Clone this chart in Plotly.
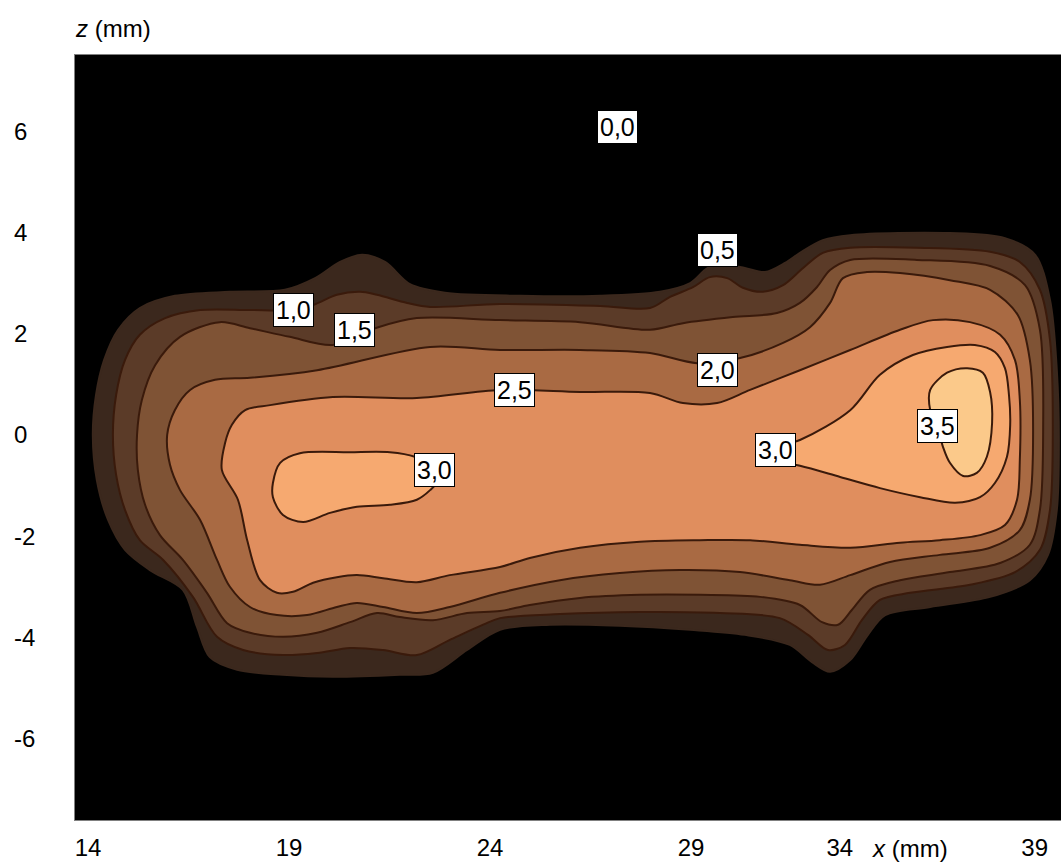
import plotly.graph_objects as go

# Isolines of the measured field, x (mm) along the bead, z (mm) across it.
iso05_x = [14.12, 14.20, 14.40, 14.75, 15.29, 16.16, 17.53, 18.90, 19.65, 20.27, 20.82, 21.39, 22.01, 22.88,
           24.75, 26.74, 28.23, 28.98, 29.42, 29.85, 30.34, 30.84, 31.34, 31.71, 32.28, 32.96, 35.44, 36.81,
           37.56, 37.93, 38.10, 38.15, 38.10, 37.88, 37.43, 36.44, 34.95, 33.83, 33.40, 32.96, 32.46, 32.01,
           31.46, 30.34, 28.98, 27.23, 25.49, 24.25, 23.43, 22.58, 21.76, 20.09, 18.85, 17.71, 17.03, 16.71,
           16.36, 15.54, 14.92, 14.50, 14.22]
iso05_z = [0.00, 0.79, 1.48, 2.08, 2.51, 2.75, 2.83, 2.87, 3.10, 3.42, 3.56, 3.42, 2.98, 2.81,
           2.75, 2.75, 2.83, 3.00, 3.30, 3.36, 3.30, 3.22, 3.40, 3.60, 3.85, 3.95, 3.99, 3.89,
           3.56, 2.67, 1.28, -0.10, -1.48, -2.37, -2.87, -3.20, -3.40, -3.56, -3.95, -4.45, -4.68, -4.49,
           -4.15, -3.95, -3.85, -3.77, -3.75, -3.85, -4.25, -4.70, -4.74, -4.78, -4.74, -4.64, -4.39, -3.79,
           -3.06, -2.67, -2.27, -1.68, -0.89]

iso10_x = [14.62, 14.70, 14.92, 15.29, 15.92, 16.79, 18.03, 19.02, 19.60, 20.19, 20.77, 21.19, 21.94, 22.51,
           24.25, 26.74, 27.98, 28.48, 29.05, 29.47, 29.90, 30.29, 30.79, 31.29, 31.79, 32.28, 32.96, 34.62,
           36.44, 37.18, 37.68, 37.93, 38.00, 37.93, 37.68, 37.06, 35.94, 34.45, 33.70, 33.25, 32.83, 32.41,
           31.91, 31.21, 29.72, 27.73, 25.74, 24.25, 23.83, 23.00, 22.18, 21.34, 20.52, 19.70, 18.85, 17.86,
           17.21, 16.61, 15.87, 15.29, 14.92, 14.70]
iso10_z = [0.00, 0.79, 1.48, 1.98, 2.31, 2.47, 2.47, 2.47, 2.57, 2.77, 2.83, 2.77, 2.61, 2.53,
           2.59, 2.55, 2.51, 2.73, 2.92, 3.12, 3.10, 2.91, 2.83, 2.96, 3.30, 3.60, 3.70, 3.70,
           3.62, 3.42, 2.87, 1.88, 0.10, -1.48, -2.27, -2.71, -2.96, -3.12, -3.26, -3.66, -4.15, -4.25,
           -3.95, -3.62, -3.52, -3.50, -3.54, -3.62, -3.75, -4.05, -4.35, -4.25, -4.21, -4.31, -4.35, -4.25,
           -3.99, -3.20, -2.47, -2.08, -1.48, -0.79]

iso15_x = [15.22, 15.34, 15.67, 16.29, 17.28, 18.03, 19.02, 20.09, 21.14, 22.18, 24.25, 26.24, 27.98, 28.80,
           30.04, 31.14, 31.71, 32.13, 32.46, 32.96, 34.62, 36.44, 37.31, 37.68, 37.76, 37.68, 37.43, 36.69,
           35.44, 34.20, 33.45, 33.00, 32.66, 32.26, 31.71, 30.72, 29.22, 27.73, 26.24, 24.99, 24.25, 23.43,
           22.58, 21.76, 21.19, 20.52, 19.70, 18.85, 18.03, 17.46, 16.96, 16.36, 15.79, 15.42, 15.24]
iso15_z = [0.00, 0.69, 1.38, 1.94, 2.23, 2.11, 1.94, 1.78, 2.11, 2.31, 2.27, 2.23, 2.08, 2.21,
           2.33, 2.41, 2.61, 2.92, 3.26, 3.46, 3.46, 3.34, 2.96, 2.08, 0.10, -1.48, -2.17, -2.53,
           -2.71, -2.87, -3.06, -3.46, -3.75, -3.70, -3.36, -3.20, -3.16, -3.16, -3.22, -3.36, -3.48, -3.52,
           -3.66, -3.60, -3.52, -3.70, -3.91, -3.99, -3.91, -3.72, -3.12, -2.47, -1.98, -1.38, -0.69]

iso20_x = [15.97, 16.16, 16.54, 17.16, 18.03, 19.70, 22.51, 24.25, 26.24, 27.98, 29.15, 30.22, 31.29, 31.96,
           32.46, 32.78, 33.38, 34.20, 35.44, 36.44, 37.13, 37.43, 37.51, 37.43, 37.18, 36.44, 35.19, 33.95,
           32.96, 32.21, 31.46, 30.22, 28.73, 27.23, 25.74, 24.25, 23.00, 22.18, 21.34, 20.69, 20.19, 19.45,
           18.70, 18.03, 17.53, 17.21, 16.79, 16.29, 16.04]
iso20_z = [0.00, 0.49, 0.89, 1.09, 1.13, 1.28, 1.74, 1.68, 1.68, 1.62, 1.42, 1.52, 1.82, 2.13,
           2.61, 3.10, 3.22, 3.20, 3.06, 2.87, 2.37, 1.48, 0.10, -1.28, -1.88, -2.23, -2.37, -2.51,
           -2.77, -2.96, -2.87, -2.71, -2.67, -2.73, -2.87, -3.12, -3.40, -3.52, -3.40, -3.32, -3.40, -3.56,
           -3.56, -3.40, -3.00, -2.47, -1.68, -1.09, -0.59]

iso25_x = [17.33, 17.41, 17.58, 17.91, 18.53, 20.09, 22.18, 24.25, 26.24, 27.98, 28.80, 29.65, 30.47, 31.71,
           32.96, 34.20, 35.02, 35.94, 36.69, 37.06, 37.18, 37.18, 37.11, 36.81, 36.19, 35.19, 34.20, 32.96,
           31.71, 30.47, 29.22, 27.73, 26.24, 24.99, 24.25, 23.00, 22.18, 21.34, 20.69, 20.19, 19.60, 19.10,
           18.70, 18.28, 17.96, 17.73]
iso25_z = [-0.69, -0.16, 0.20, 0.49, 0.59, 0.75, 0.73, 0.89, 0.85, 0.83, 0.63, 0.63, 0.89, 1.28,
           1.68, 2.08, 2.27, 2.23, 1.98, 1.48, 0.69, -0.49, -1.28, -1.78, -1.98, -2.08, -2.13, -2.23,
           -2.17, -2.08, -2.08, -2.11, -2.23, -2.43, -2.61, -2.77, -2.91, -2.83, -2.77, -2.81, -2.92, -3.10,
           -3.12, -2.87, -2.08, -1.28]

iso30a_x = [18.60, 18.78, 19.27, 20.52, 21.51, 22.13, 22.63, 22.76, 22.51, 22.18, 21.51, 20.69, 20.02,
            19.35, 18.85, 18.60]
iso30a_z = [-0.95, -0.55, -0.36, -0.34, -0.34, -0.43, -0.65, -0.85, -1.09, -1.28, -1.38, -1.42, -1.54,
            -1.72, -1.58, -1.23]

iso30b_x = [30.72, 31.71, 32.96, 33.70, 34.52, 35.37, 36.06, 36.56, 36.81, 36.91, 36.94, 36.86, 36.56,
            36.19, 35.57, 34.70, 33.70, 32.71, 31.71, 30.97]
iso30b_z = [-0.34, -0.10, 0.49, 1.19, 1.58, 1.74, 1.78, 1.64, 1.32, 0.79, 0.20, -0.43, -0.95,
            -1.23, -1.34, -1.23, -1.05, -0.83, -0.61, -0.49]

iso35_x = [34.95, 35.37, 35.87, 36.26, 36.44, 36.49, 36.36, 36.11, 35.77, 35.44, 35.27, 35.15, 34.95]
iso35_z = [0.89, 1.23, 1.32, 1.23, 0.85, 0.24, -0.43, -0.75, -0.81, -0.55, -0.24, 0.10, 0.49]

# Contour labels (text, x, z)
label_text = ["0,0", "0,5", "1,0", "1,5", "2,0", "2,5", "3,0", "3,0", "3,5"]
label_x = [27.16, 29.65, 19.10, 20.62, 29.65, 24.62, 22.63, 31.09, 35.14]
label_z = [6.09, 3.66, 2.47, 2.08, 1.28, 0.89, -0.69, -0.30, 0.18]

# Axis tick labels
x_tick_text = ["14", "19", "24", "29", "34", "39"]
x_tick_at = [14, 19, 24, 29, 32.7, 37.55]
z_ticks = [6, 4, 2, 0, -2, -4, -6]

FONT = "Arial, Liberation Sans, sans-serif"
LINE = "#3a1a0b"

bands = [
    (iso05_x, iso05_z, "#3b281d", False),
    (iso10_x, iso10_z, "#5b3b28", True),
    (iso15_x, iso15_z, "#7f5335", True),
    (iso20_x, iso20_z, "#a96a43", True),
    (iso25_x, iso25_z, "#e08e5e", True),
    (iso30a_x, iso30a_z, "#f6a970", True),
    (iso30b_x, iso30b_z, "#f6a970", True),
    (iso35_x, iso35_z, "#fbc98a", True),
]

fig = go.Figure()
for xs, zs, fill, outlined in bands:
    fig.add_trace(go.Scatter(
        x=xs + xs[:1], y=zs + zs[:1], mode="lines", fill="toself", fillcolor=fill,
        line=dict(color=LINE if outlined else fill, width=2, shape="spline", smoothing=0.9),
        hoverinfo="skip", showlegend=False,
    ))

for t, lx, lz in zip(label_text, label_x, label_z):
    fig.add_annotation(x=lx, y=lz, xref="x", yref="y", text=t, showarrow=False,
                       font=dict(family=FONT, size=25, color="black"),
                       bgcolor="white", bordercolor="black", borderwidth=1, borderpad=2)

for v in z_ticks:
    fig.add_annotation(x=-0.0639, y=v, xref="paper", yref="y", text=str(v), showarrow=False,
                       xanchor="left", font=dict(family=FONT, size=24, color="black"))

fig.add_annotation(x=-0.002, y=1.015, xref="paper", yref="paper", text="<i>z</i> (mm)",
                   showarrow=False, xanchor="left", yanchor="bottom",
                   font=dict(family=FONT, size=24, color="black"))
fig.add_annotation(x=34.45, y=-0.037, xref="x", yref="paper", text="<i>x</i> (mm)",
                   showarrow=False, xanchor="center", yanchor="middle",
                   font=dict(family=FONT, size=24, color="black"))

fig.update_layout(
    width=1061, height=866,
    margin=dict(l=75, r=0, t=55, b=46),
    paper_bgcolor="white", plot_bgcolor="black",
    font=dict(family=FONT, size=20, color="black"),
    xaxis=dict(range=[13.677, 38.204], showgrid=False, zeroline=False,
               tickvals=x_tick_at, ticktext=x_tick_text, ticks="", ticklabelstandoff=6,
               tickfont=dict(family=FONT, size=24, color="black"),
               showline=True, linecolor="#808080", linewidth=1, mirror=True),
    yaxis=dict(range=[-7.61, 7.51], showgrid=False, zeroline=False, showticklabels=False,
               ticks="", showline=True, linecolor="#808080", linewidth=1, mirror=True),
)

fig.write_html("out.html")
